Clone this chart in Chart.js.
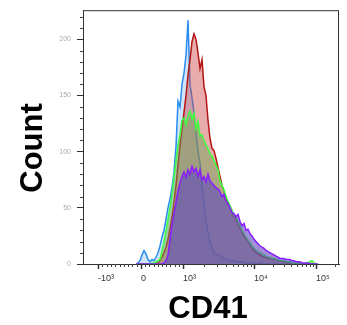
<!DOCTYPE html>
<html>
<head>
<meta charset="utf-8">
<script src="https://cdn.jsdelivr.net/npm/chart.js@4.4.1/dist/chart.umd.min.js"></script>
<style>
    body { margin: 0; background: #fff; }
    #wrap { width: 347px; height: 325px; }
</style>
</head>
<body>
<div id="wrap"><canvas id="cd41-chart"></canvas></div>
<script>
// histogram bins, in display channels (0..256 across the plot)
const channels = [
    53, 55, 57, 59, 61, 63, 65, 67, 69, 71, 73, 75, 77, 79, 81, 83, 85, 87, 89, 91,
    93, 95, 97, 99, 101, 103, 105, 107, 109, 111, 113, 115, 117, 119, 121, 123, 125, 127, 129, 131,
    133, 135, 137, 139, 141, 143, 145, 147, 149, 151, 153, 155, 157, 159, 161, 163, 165, 167, 169, 171,
    173, 175, 177, 179, 181, 183, 185, 187, 189, 191, 193, 195, 197, 199, 201, 203, 205, 207, 209, 211,
    213, 215, 217, 219, 221, 223, 225, 227, 229, 231, 233, 235
];

const blueCounts = [
    0, 1, 3, 8, 12, 9, 4, 2, 4, 3, 6, 10, 16, 24, 30, 40, 50, 58, 68, 82,
    105, 145, 140, 160, 170, 186, 217, 160, 148, 135, 118, 100, 90, 70, 55, 38, 28, 20, 14, 10,
    9, 8, 7, 6, 5, 5, 4, 3, 3, 3, 2, 2, 2, 2, 1, 1, 1, 1, 0, 1,
    0, 0, 1, 0, 0, 0, 0, 0, 0, 0, 0, 0, 0, 0, 0, 0, 0, 0, 0, 0,
    0, 0, 0, 0, 0, 0, 0, 0, 0, 0, 0, 0
];

const redCounts = [
    0, 0, 0, 0, 0, 0, 0, 0, 0, 0, 0, 1, 3, 6, 10, 15, 22, 32, 42, 55,
    70, 88, 105, 120, 135, 150, 168, 182, 198, 205, 200, 188, 174, 182, 158, 150, 128, 112, 103, 101,
    94, 86, 78, 70, 65, 58, 54, 50, 46, 42, 40, 36, 32, 28, 25, 22, 20, 17, 14, 12,
    10, 9, 8, 7, 6, 6, 5, 5, 4, 4, 4, 3, 3, 2, 2, 2, 1, 1, 1, 1,
    0, 0, 0, 0, 0, 0, 0, 0, 0, 0, 0, 0
];

const greenCounts = [
    0, 0, 0, 0, 0, 0, 0, 0, 1, 1, 2, 3, 4, 12, 20, 30, 40, 50, 62, 78,
    92, 106, 115, 128, 130, 124, 132, 136, 129, 134, 120, 127, 114, 115, 110, 106, 103, 98, 96, 92,
    88, 84, 74, 70, 66, 60, 56, 52, 48, 44, 41, 38, 34, 30, 27, 24, 21, 19, 16, 14,
    12, 11, 10, 9, 8, 7, 6, 6, 5, 5, 4, 4, 3, 3, 3, 2, 2, 2, 1, 1,
    1, 1, 1, 1, 0, 1, 1, 2, 3, 1, 0, 0
];

const purpleCounts = [
    0, 0, 0, 0, 0, 0, 0, 0, 0, 0, 0, 0, 0, 0, 1, 3, 8, 22, 35, 45,
    55, 65, 72, 78, 82, 77, 84, 80, 87, 82, 85, 78, 84, 75, 78, 73, 80, 74, 72, 70,
    68, 67, 64, 60, 62, 56, 54, 50, 46, 45, 42, 44, 38, 34, 36, 30, 31, 27, 25, 22,
    20, 18, 16, 15, 14, 12, 11, 10, 9, 8, 7, 6, 5, 5, 5, 4, 4, 4, 3, 3,
    2, 2, 2, 1, 1, 1, 1, 0, 0, 0, 0, 0
];

// axis ticks
const xTickValues = [-1000, 0, 1000, 10000, 100000];
const xTickLabels = ['-10³', '0', '10³', '10⁴', '10⁵'];
const xTickChannels = [15, 58, 100, 171, 233];
const xMinorValues = [
    -900, -800, -700, -600, -500, -400, -300, -200, -100,
    100, 200, 300, 400, 500, 600, 700, 800, 900,
    2000, 3000, 4000, 5000, 6000, 7000, 8000, 9000,
    20000, 30000, 40000, 50000, 60000, 70000, 80000, 90000, 200000
];
const yTickValues = [0, 50, 100, 150, 200];
const yMinorValues = [10, 20, 30, 40, 60, 70, 80, 90, 110, 120, 130, 140, 160, 170, 180, 190, 210, 220];

// biexponential-ish display: linear around zero, log per decade above 10^3
function toChannel(v) {
    if (v <= 1000) {
        let i = v <= 0 ? 0 : 1;
        const v0 = xTickValues[i], v1 = xTickValues[i + 1];
        return xTickChannels[i] + (v - v0) / (v1 - v0) * (xTickChannels[i + 1] - xTickChannels[i]);
    }
    let i = Math.min(3, Math.floor(Math.log10(v)) - 1);
    const frac = Math.log10(v) - Math.log10(xTickValues[i]);
    return xTickChannels[i] + frac * (xTickChannels[i + 1] - xTickChannels[i]);
}

function toPoints(counts) {
    return channels.map((c, i) => ({ x: c, y: counts[i] }));
}

const frameAndTitles = {
    id: 'frameAndTitles',
    afterDraw(chart) {
        const { ctx, chartArea: a, scales } = chart;
        ctx.save();
        ctx.strokeStyle = '#333';
        ctx.lineWidth = 1;
        ctx.strokeRect(a.left + 0.5, a.top + 0.5, a.right - a.left - 1, a.bottom - a.top);

        // minor ticks
        ctx.strokeStyle = '#444';
        ctx.beginPath();
        xMinorValues.forEach(v => {
            const px = Math.round(scales.x.getPixelForValue(toChannel(v))) + 0.5;
            ctx.moveTo(px, a.bottom);
            ctx.lineTo(px, a.bottom + 3);
        });
        yMinorValues.forEach(v => {
            const py = Math.round(scales.y.getPixelForValue(v)) + 0.5;
            ctx.moveTo(a.left, py);
            ctx.lineTo(a.left - 3, py);
        });
        ctx.stroke();

        // axis titles
        ctx.fillStyle = '#000';
        ctx.font = 'bold 31px "Liberation Sans", Arial, sans-serif';
        ctx.textAlign = 'center';
        ctx.textBaseline = 'alphabetic';
        ctx.fillText('CD41', 208, 318);
        ctx.translate(42, 148);
        ctx.rotate(-Math.PI / 2);
        ctx.fillText('Count', 0, 0);
        ctx.restore();
    }
};

const ctx = document.getElementById('cd41-chart').getContext('2d');
new Chart(ctx, {
    type: 'line',
    data: {
        datasets: [
            {
                label: 'purple',
                data: toPoints(purpleCounts),
                borderColor: '#8a1cff',
                backgroundColor: 'rgba(95, 70, 190, 0.6)',
                order: 0
            },
            {
                label: 'green',
                data: toPoints(greenCounts),
                borderColor: '#3dff3d',
                backgroundColor: 'rgba(105, 165, 80, 0.45)',
                order: 1
            },
            {
                label: 'red',
                data: toPoints(redCounts),
                borderColor: '#b31414',
                backgroundColor: 'rgba(205, 70, 70, 0.45)',
                order: 2
            },
            {
                label: 'blue',
                data: toPoints(blueCounts),
                borderColor: '#2a8cf0',
                backgroundColor: 'rgba(120, 180, 240, 0.35)',
                order: 3
            }
        ]
    },
    options: {
        responsive: true,
        maintainAspectRatio: false,
        animation: false,
        layout: { padding: { top: 8, right: 8, left: 0, bottom: 0 } },
        elements: {
            point: { radius: 0 },
            line: { borderWidth: 1.5, tension: 0, fill: 'origin' }
        },
        plugins: {
            legend: { display: false },
            tooltip: { enabled: false }
        },
        scales: {
            x: {
                type: 'linear',
                min: 0,
                max: 256,
                afterFit: (scale) => { scale.height = 61; },
                afterBuildTicks: (scale) => {
                    scale.ticks = xTickChannels.map(c => ({ value: c }));
                },
                ticks: {
                    align: 'start',
                    maxRotation: 0,
                    autoSkip: false,
                    padding: 4,
                    color: '#333',
                    font: { family: '"Liberation Sans", Arial, sans-serif', size: 9 },
                    callback: (value) => xTickLabels[xTickChannels.indexOf(value)]
                },
                grid: { drawOnChartArea: false, tickLength: 5, tickColor: '#333', tickWidth: 1.5 },
                border: { color: '#333', width: 1 }
            },
            y: {
                type: 'linear',
                min: 0,
                max: 226,
                afterFit: (scale) => { scale.width = 83; },
                afterBuildTicks: (scale) => {
                    scale.ticks = yTickValues.map(v => ({ value: v }));
                },
                ticks: {
                    padding: 6,
                    color: '#aaa',
                    font: { family: '"Liberation Sans", Arial, sans-serif', size: 7 }
                },
                grid: { drawOnChartArea: false, tickLength: 6, tickColor: '#333', tickWidth: 1 },
                border: { color: '#333', width: 1 }
            }
        }
    },
    plugins: [frameAndTitles]
});
</script>
</body>
</html>
